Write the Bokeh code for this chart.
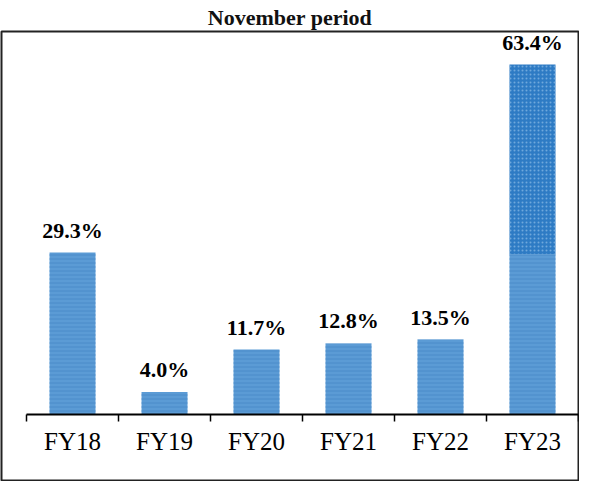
import numpy as np
from bokeh.plotting import figure
from bokeh.models import (LinearAxis, FixedTicker, Range1d, ColumnDataSource, LabelSet)
from bokeh.embed import file_html
from bokeh.resources import INLINE

# ---- data ----
categories = ["FY18", "FY19", "FY20", "FY21", "FY22", "FY23"]
growth = [29.3, 4.0, 11.7, 12.8, 13.5, 63.4]
fy23_light_part = 29.0   # lighter lower section of the FY23 bar
title_text = "November period"

centers = [i + 0.5 for i in range(len(categories))]
boundaries = [float(i) for i in range(len(categories) + 1)]
labels = [f"{v:.1f}%" for v in growth]

light_tops = list(growth[:-1]) + [fy23_light_part]
src_light = ColumnDataSource(dict(x=centers, top=light_tops))
src_dark = ColumnDataSource(dict(x=[centers[-1]], bottom=[fy23_light_part], top=[growth[-1]]))
src_lab = ColumnDataSource(dict(x=centers, y=growth, t=labels))

W, H = 579, 481
p = figure(width=W, height=H, output_backend="svg", toolbar_location=None,
           x_axis_location=None, y_axis_location=None,
           x_range=Range1d(-0.272, 6.0), y_range=Range1d(-12.06, 69.4),
           min_border_left=1, min_border_right=1, min_border_bottom=1, min_border_top=0)
p.title.text = title_text
p.title.align = "center"
p.title.text_font = "Liberation Serif"
p.title.text_font_size = "22px"
p.title.text_font_style = "bold"
p.title.text_color = "#111111"
p.title.standoff = 4
p.outline_line_color = "#222222"
p.outline_line_width = 2
p.xgrid.visible = False
p.ygrid.visible = False
p.background_fill_color = "white"
p.border_fill_color = "white"

p.vbar(x="x", top="top", bottom=0, width=0.5, source=src_light,
       fill_color="#5B9BD5", line_color=None,
       hatch_pattern="horizontal_line", hatch_color="#4A8BC9", hatch_scale=4, hatch_weight=1)
p.vbar(x="x", top="top", bottom="bottom", width=0.5, source=src_dark,
       fill_color="#2E7BC4", line_color=None,
       hatch_pattern="dot", hatch_color="#6FA8DC", hatch_scale=4, hatch_weight=1)

lab = LabelSet(x="x", y="y", text="t", source=src_lab, text_align="center",
               text_baseline="alphabetic", y_offset=15,
               text_font="Liberation Serif", text_font_size="22px", text_font_style="bold",
               text_color="black")
p.add_layout(lab)

xa = LinearAxis(fixed_location=0, bounds=(0, 6),
                ticker=FixedTicker(ticks=centers, minor_ticks=boundaries))
xa.major_label_overrides = {c: cat for c, cat in zip(centers, categories)}
xa.major_tick_line_color = None
xa.minor_tick_line_color = "black"
xa.minor_tick_line_width = 1.5
xa.minor_tick_out = 7
xa.minor_tick_in = 0
xa.axis_line_color = "black"
xa.axis_line_width = 2
xa.major_label_text_font = "Liberation Serif"
xa.major_label_text_font_size = "25px"
xa.major_label_text_font_style = "normal"
xa.major_label_text_color = "black"
xa.major_label_standoff = 7
p.add_layout(xa, "below")

open("out.html", "w").write(file_html(p, INLINE))
